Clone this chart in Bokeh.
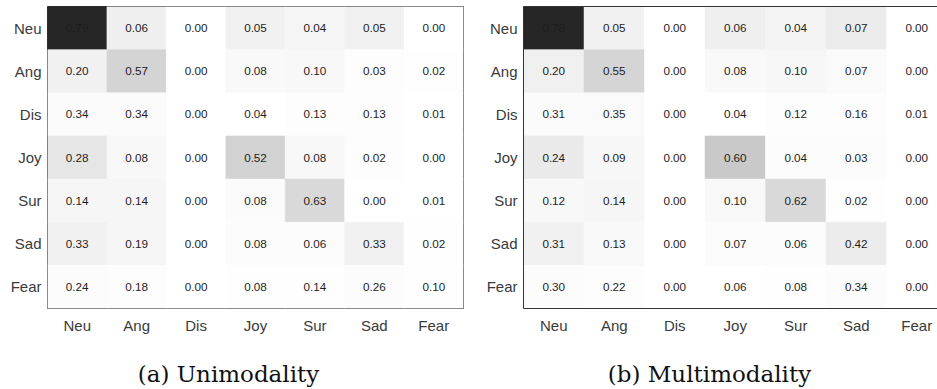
import numpy as np
from bokeh.plotting import figure
from bokeh.layouts import row, column
from bokeh.models import ColumnDataSource, Range1d, FixedTicker, LinearAxis
from bokeh.transform import linear_cmap
from bokeh.core.properties import value
from bokeh.embed import file_html
from bokeh.resources import INLINE

labels = ["Neu", "Ang", "Dis", "Joy", "Sur", "Sad", "Fear"]
# number of test utterances per true class (sets the cell shading)
support = [1256, 345, 68, 402, 281, 208, 50]

uni_neu = [0.79, 0.06, 0.00, 0.05, 0.04, 0.05, 0.00]
uni_ang = [0.20, 0.57, 0.00, 0.08, 0.10, 0.03, 0.02]
uni_dis = [0.34, 0.34, 0.00, 0.04, 0.13, 0.13, 0.01]
uni_joy = [0.28, 0.08, 0.00, 0.52, 0.08, 0.02, 0.00]
uni_sur = [0.14, 0.14, 0.00, 0.08, 0.63, 0.00, 0.01]
uni_sad = [0.33, 0.19, 0.00, 0.08, 0.06, 0.33, 0.02]
uni_fear = [0.24, 0.18, 0.00, 0.08, 0.14, 0.26, 0.10]

mul_neu = [0.78, 0.05, 0.00, 0.06, 0.04, 0.07, 0.00]
mul_ang = [0.20, 0.55, 0.00, 0.08, 0.10, 0.07, 0.00]
mul_dis = [0.31, 0.35, 0.00, 0.04, 0.12, 0.16, 0.01]
mul_joy = [0.24, 0.09, 0.00, 0.60, 0.04, 0.03, 0.00]
mul_sur = [0.12, 0.14, 0.00, 0.10, 0.62, 0.02, 0.00]
mul_sad = [0.31, 0.13, 0.00, 0.07, 0.06, 0.42, 0.00]
mul_fear = [0.30, 0.22, 0.00, 0.06, 0.08, 0.34, 0.00]

uni = [uni_neu, uni_ang, uni_dis, uni_joy, uni_sur, uni_sad, uni_fear]
mul = [mul_neu, mul_ang, mul_dis, mul_joy, mul_sur, mul_sad, mul_fear]

captions = ["(a) Unimodality", "(b) Multimodality"]

greys = ["#%02x%02x%02x" % (g, g, g) for g in np.linspace(255, 38, 256).round().astype(int)]

n = len(labels)
centers = [i + 0.5 for i in range(n)]
FRAME = "#333333"
TICK_COLOR = "#3a3a3a"
MAT_H = 340


def build(mat, width, border_left, border_right, x_end, full_outline):
    xs, ys, counts, txt = [], [], [], []
    for i, r in enumerate(mat):
        for j, v in enumerate(r):
            xs.append(j + 0.5)
            ys.append(n - 0.5 - i)
            counts.append(v * support[i])
            txt.append("%.2f" % v)
    src = ColumnDataSource(dict(x=xs, y=ys, c=counts, t=txt))
    cmax = max(counts)

    p = figure(width=width, height=MAT_H, output_backend="svg", toolbar_location=None,
               x_range=Range1d(0, x_end), y_range=Range1d(0, n),
               min_border_left=border_left, min_border_right=border_right,
               min_border_top=6, min_border_bottom=MAT_H - 308)
    cm = linear_cmap("c", greys, 0, cmax)
    p.rect(x="x", y="y", width=1, height=1, source=src, fill_color=cm,
           line_color=cm, line_width=0.5)
    p.text(x="x", y="y", text="t", source=src, text_align="center",
           text_baseline="middle", text_font=value("Liberation Sans"),
           text_font_size="11.7px", text_color="#1e1e1e")

    p.xgrid.visible = False
    p.ygrid.visible = False
    for ax in (p.xaxis[0], p.yaxis[0]):
        ax.ticker = FixedTicker(ticks=centers)
        ax.major_tick_line_color = None
        ax.minor_tick_line_color = None
        ax.major_tick_out = 0
        ax.major_tick_in = 0
        ax.major_label_text_font = "Liberation Sans"
        ax.major_label_text_font_size = "15px"
        ax.major_label_text_color = TICK_COLOR
    p.xaxis[0].major_label_overrides = {c: l for c, l in zip(centers, labels)}
    p.yaxis[0].major_label_overrides = {c: l for c, l in zip(centers, labels[::-1])}
    p.xaxis[0].major_label_standoff = 8
    p.yaxis[0].major_label_standoff = 6

    if full_outline:
        p.outline_line_color = FRAME
        p.outline_line_width = 1
        p.xaxis[0].axis_line_color = None
        p.yaxis[0].axis_line_color = None
    else:
        p.outline_line_color = None
        p.xaxis[0].axis_line_color = FRAME
        p.yaxis[0].axis_line_color = FRAME
        top = LinearAxis(ticker=FixedTicker(ticks=[]), major_label_text_font_size="0px",
                         major_tick_line_color=None, minor_tick_line_color=None,
                         major_tick_out=0, major_tick_in=0, major_label_standoff=0,
                         axis_line_color=FRAME)
        p.add_layout(top, "above")
    return p


p1 = build(uni, 470, 47, 7, n, True)
p2 = build(mul, 467, 53, 0, 414 / 60.5, False)

# caption strip under the two matrices
CAP_H = 48
cap = figure(width=937, height=CAP_H, output_backend="svg", toolbar_location=None,
             x_range=Range1d(0, 937), y_range=Range1d(0, CAP_H),
             x_axis_type=None, y_axis_type=None, min_border=0)
cap.outline_line_color = None
cap.xgrid.visible = False
cap.ygrid.visible = False
cap_src = ColumnDataSource(dict(x=[228, 709], y=[15, 15], t=captions))
cap.text(x="x", y="y", text="t", source=cap_src, text_align="center",
         text_baseline="middle", text_font=value("DejaVu Serif"),
         text_font_size="23px", text_color="#111111")

layout = column(row(p1, p2), cap)
open("out.html", "w").write(file_html(layout, INLINE))
